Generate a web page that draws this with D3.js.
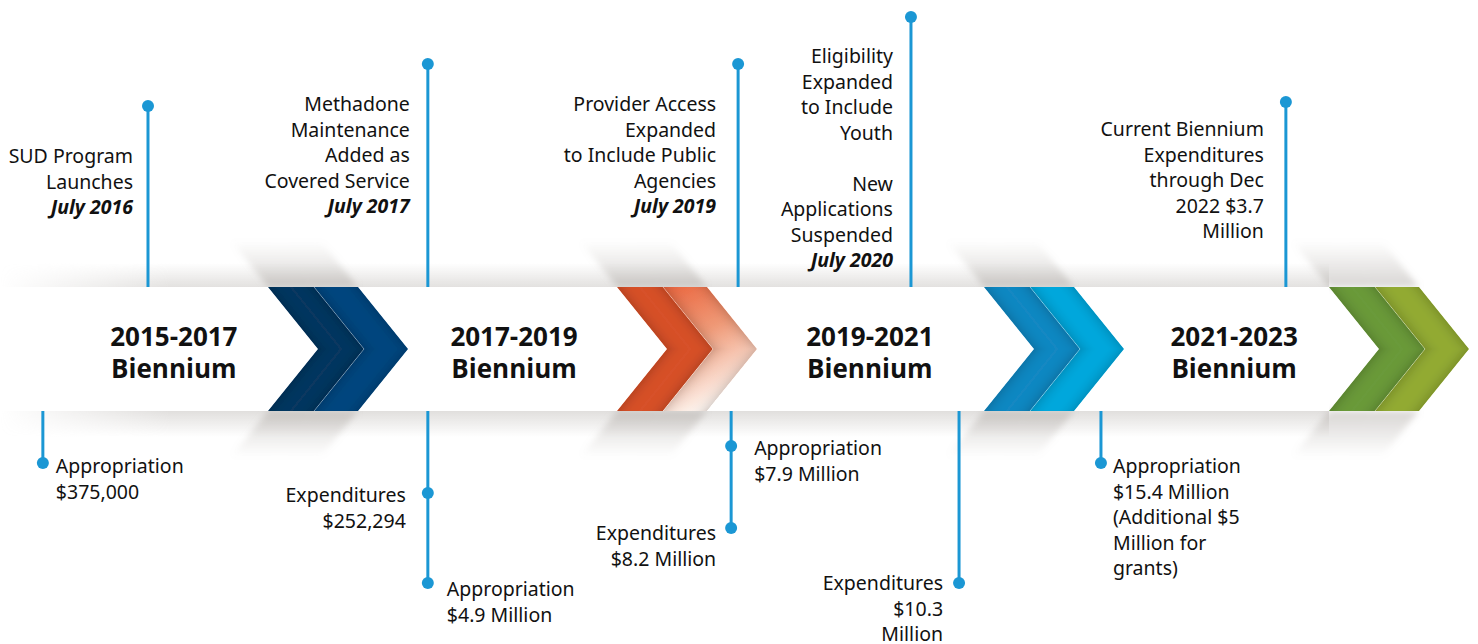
<!DOCTYPE html>
<html>
<head>
<meta charset="utf-8">
<script src="https://cdn.jsdelivr.net/npm/d3@7"></script>
<style>
  body { margin: 0; background: #fff; }
  svg { display: block; font-family: "Noto Sans", "Open Sans", sans-serif; }
</style>
</head>
<body>
<svg id="chart" width="1478" height="644"></svg>
<script>
// ---- data ----
var bienniums = ["2015-2017", "2017-2019", "2019-2021", "2021-2023"];

var milestoneText = [
  ["SUD Program", "Launches"],
  ["Methadone", "Maintenance", "Added as", "Covered Service"],
  ["Provider Access", "Expanded", "to Include Public", "Agencies"],
  ["Eligibility", "Expanded", "to Include", "Youth", "", "New", "Applications", "Suspended"],
  ["Current Biennium", "Expenditures", "through Dec", "2022 $3.7", "Million"]
];
var milestoneDates = ["July 2016", "July 2017", "July 2019", "July 2020", ""];

var fundingText = [
  ["Appropriation", "$375,000"],
  ["Expenditures", "$252,294"],
  ["Appropriation", "$4.9 Million"],
  ["Appropriation", "$7.9 Million"],
  ["Expenditures", "$8.2 Million"],
  ["Expenditures", "$10.3", "Million"],
  ["Appropriation", "$15.4 Million", "(Additional $5", "Million for", "grants)"]
];

// ---- layout (timeline units: 1 = one biennium) ----
var W = 1478, H = 644;
var bandTop = 287, bandBot = 411, mid = 349;
var lineH = 25.5;
var x = d3.scaleLinear().domain([0, 1, 2, 3, 4]).range([-86, 268, 617, 984, 1329]);

var labelAt = [0.734, 1.705, 2.689, 3.725];
var milestoneLayout = [
  {t: 0.661, dot: 106, y: 163, dx: -15},
  {t: 1.458, dot: 64,  y: 111, dx: -18},
  {t: 2.330, dot: 64,  y: 111, dx: -22},
  {t: 2.801, dot: 17,  y: 63,  dx: -18},
  {t: 3.875, dot: 102, y: 136, dx: -22}
];
var fundingLayout = [
  {t: 0.364, dot: 463, y: 473, dx: 13,  anchor: "start"},
  {t: 1.458, dot: 493, y: 502, dx: -22, anchor: "end"},
  {t: 1.458, dot: 583, y: 596, dx: 19,  anchor: "start"},
  {t: 2.311, dot: 446, y: 455, dx: 23,  anchor: "start"},
  {t: 2.311, dot: 528, y: 540, dx: -15, anchor: "end"},
  {t: 2.932, dot: 583, y: 590, dx: -16, anchor: "end"},
  {t: 3.339, dot: 463, y: 473, dx: 12,  anchor: "start"}
];

var chevronFill = [
  ["#0a3760", "#00477f"],
  ["#d7512a", "url(#orangeTip)"],
  ["#1888c2", "#00a8dd"],
  ["#6b9a3b", "#93ab36"]
];
var stemColor = "#1b97d4";

var svg = d3.select("#chart");
var defs = svg.append("defs");

// inner shading along the slanted edges
var f = defs.append("filter").attr("id", "inset")
    .attr("x", "-10%").attr("y", "-10%").attr("width", "120%").attr("height", "120%");
f.append("feGaussianBlur").attr("in", "SourceAlpha").attr("stdDeviation", "9 0").attr("result", "blur");
f.append("feComposite").attr("in", "SourceAlpha").attr("in2", "blur")
    .attr("operator", "arithmetic").attr("k2", 1).attr("k3", -1).attr("result", "edge");
f.append("feFlood").attr("flood-color", "#000").attr("flood-opacity", 0.55);
f.append("feComposite").attr("in2", "edge").attr("operator", "in").attr("result", "shade");
var fm = f.append("feMerge");
fm.append("feMergeNode").attr("in", "SourceGraphic");
fm.append("feMergeNode").attr("in", "shade");

defs.append("filter").attr("id", "soft")
    .attr("x", "-20%").attr("y", "-20%").attr("width", "140%").attr("height", "140%")
  .append("feGaussianBlur").attr("stdDeviation", 3);

function vGrad(id, y1, y2, stops) {
  var g = defs.append("linearGradient").attr("id", id)
      .attr("gradientUnits", "userSpaceOnUse")
      .attr("x1", 0).attr("x2", 0).attr("y1", y1).attr("y2", y2);
  stops.forEach(function(s) {
    g.append("stop").attr("offset", s[0]).attr("stop-color", s[1]).attr("stop-opacity", s[2]);
  });
}
vGrad("shTop", bandTop - 24, bandTop, [[0, "#bcb8b4", 0], [1, "#bcb8b4", 0.42]]);
vGrad("shBot", bandBot, bandBot + 26, [[0, "#bcb8b4", 0.45], [1, "#bcb8b4", 0]]);
vGrad("stTop", bandTop - 46, bandTop, [[0, "#a39d98", 0], [1, "#a39d98", 0.42]]);
vGrad("stBot", bandBot, bandBot + 46, [[0, "#a39d98", 0.42], [1, "#a39d98", 0]]);

var og = defs.append("linearGradient").attr("id", "orangeTip")
    .attr("x1", 0).attr("y1", 0).attr("x2", 0.35).attr("y2", 1);
og.append("stop").attr("offset", 0).attr("stop-color", "#ea6741");
og.append("stop").attr("offset", 0.45).attr("stop-color", "#f09a78");
og.append("stop").attr("offset", 1).attr("stop-color", "#fdf3ed");

var fx = defs.append("linearGradient").attr("id", "fadeX")
    .attr("gradientUnits", "userSpaceOnUse").attr("x1", 0).attr("x2", 170).attr("y1", 0).attr("y2", 0);
fx.append("stop").attr("offset", 0).attr("stop-color", "#fff").attr("stop-opacity", 0);
fx.append("stop").attr("offset", 1).attr("stop-color", "#fff").attr("stop-opacity", 1);
defs.append("mask").attr("id", "fadeMask")
  .append("rect").attr("width", W).attr("height", H).attr("fill", "url(#fadeX)");

// ---- band and shadows ----
var bandEnd = x(4);
var shadow = svg.append("g").attr("mask", "url(#fadeMask)");
shadow.append("rect").attr("x", 0).attr("y", bandTop - 24).attr("width", bandEnd).attr("height", 24).attr("fill", "url(#shTop)");
shadow.append("rect").attr("x", 0).attr("y", bandBot).attr("width", bandEnd).attr("height", 26).attr("fill", "url(#shBot)");

var slope = 50 / 62, sh = 46;
var pieces = [];
bienniums.forEach(function(b, i) {
  var x0 = x(i + 1);
  pieces.push({i: i, k: 0, x0: x0, xl: x0, xr: x0 + 46});
  pieces.push({i: i, k: 1, x0: x0, xl: x0 + 46, xr: x0 + 90});
});

var streaks = svg.append("g").attr("filter", "url(#soft)");
streaks.selectAll(".st-top").data(pieces).enter().append("polygon")
    .attr("fill", "url(#stTop)")
    .attr("points", function(d) {
      return [[d.xl, bandTop], [d.xr, bandTop], [d.xr - slope * sh, bandTop - sh], [d.xl - slope * sh, bandTop - sh]].join(" ");
    });
streaks.selectAll(".st-bot").data(pieces).enter().append("polygon")
    .attr("fill", "url(#stBot)")
    .attr("points", function(d) {
      return [[d.xl, bandBot], [d.xr, bandBot], [d.xr - slope * sh, bandBot + sh], [d.xl - slope * sh, bandBot + sh]].join(" ");
    });

svg.append("rect").attr("x", 0).attr("y", bandTop).attr("width", bandEnd).attr("height", bandBot - bandTop).attr("fill", "#fff");

// ---- chevrons ----
function piecePoints(d) {
  var a = d.x0 + d.k * 46, w = d.k ? 44 : 46, n = d.k ? 96 : 50;
  return [[a, bandTop], [a + w, bandTop], [a + w + 50, mid], [a + w, bandBot], [a, bandBot], [d.x0 + n, mid]].join(" ");
}
svg.append("g").selectAll("polygon").data(pieces).enter().append("polygon")
    .attr("points", piecePoints)
    .attr("fill", function(d) { return chevronFill[d.i][d.k]; })
    .attr("filter", "url(#inset)");

svg.append("g").selectAll("polyline").data(bienniums).enter().append("polyline")
    .attr("points", function(d, i) {
      var x0 = x(i + 1);
      return [[x0 + 46, bandTop], [x0 + 96, mid], [x0 + 46, bandBot]].join(" ");
    })
    .attr("fill", "none").attr("stroke", "rgba(255,255,255,0.35)").attr("stroke-width", 0.8);

// ---- biennium labels ----
var lab = svg.append("g").selectAll("text").data(bienniums).enter().append("text")
    .attr("text-anchor", "middle")
    .attr("font-family", "'Open Sans', sans-serif")
    .attr("font-weight", 700).attr("font-size", 26).attr("fill", "#111");
lab.append("tspan").attr("x", function(d, i) { return x(labelAt[i]); }).attr("y", 345.5).text(function(d) { return d; });
lab.append("tspan").attr("x", function(d, i) { return x(labelAt[i]); }).attr("y", 377.5).text("Biennium");

// ---- top milestones ----
var ms = svg.append("g").selectAll("g").data(milestoneLayout).enter().append("g");
ms.append("line")
    .attr("x1", function(d) { return x(d.t); }).attr("x2", function(d) { return x(d.t); })
    .attr("y1", function(d) { return d.dot; }).attr("y2", bandTop)
    .attr("stroke", stemColor).attr("stroke-width", 3);
ms.append("circle")
    .attr("cx", function(d) { return x(d.t); }).attr("cy", function(d) { return d.dot; })
    .attr("r", 6).attr("fill", stemColor);
ms.each(function(d, i) {
  var t = d3.select(this).append("text")
      .attr("text-anchor", "end").attr("font-size", 19.5).attr("fill", "#111");
  var lines = milestoneText[i];
  lines.forEach(function(s, j) {
    t.append("tspan").attr("x", x(d.t) + d.dx).attr("y", d.y + j * lineH).text(s);
  });
  if (milestoneDates[i]) {
    t.append("tspan").attr("x", x(d.t) + d.dx).attr("y", d.y + lines.length * lineH)
        .attr("font-weight", 700).attr("font-style", "italic").text(milestoneDates[i]);
  }
});

// ---- bottom funding notes ----
var stems = d3.rollups(fundingLayout, function(v) { return d3.max(v, function(d) { return d.dot; }); }, function(d) { return d.t; });
svg.append("g").selectAll("line").data(stems).enter().append("line")
    .attr("x1", function(d) { return x(d[0]); }).attr("x2", function(d) { return x(d[0]); })
    .attr("y1", bandBot).attr("y2", function(d) { return d[1]; })
    .attr("stroke", stemColor).attr("stroke-width", 3);

var fund = svg.append("g").selectAll("g").data(fundingLayout).enter().append("g");
fund.append("circle")
    .attr("cx", function(d) { return x(d.t); }).attr("cy", function(d) { return d.dot; })
    .attr("r", 6).attr("fill", stemColor);
fund.each(function(d, i) {
  var t = d3.select(this).append("text")
      .attr("text-anchor", d.anchor).attr("font-size", 19.5).attr("fill", "#111");
  fundingText[i].forEach(function(s, j) {
    t.append("tspan").attr("x", x(d.t) + d.dx).attr("y", d.y + j * lineH).text(s);
  });
});
</script>
</body>
</html>
